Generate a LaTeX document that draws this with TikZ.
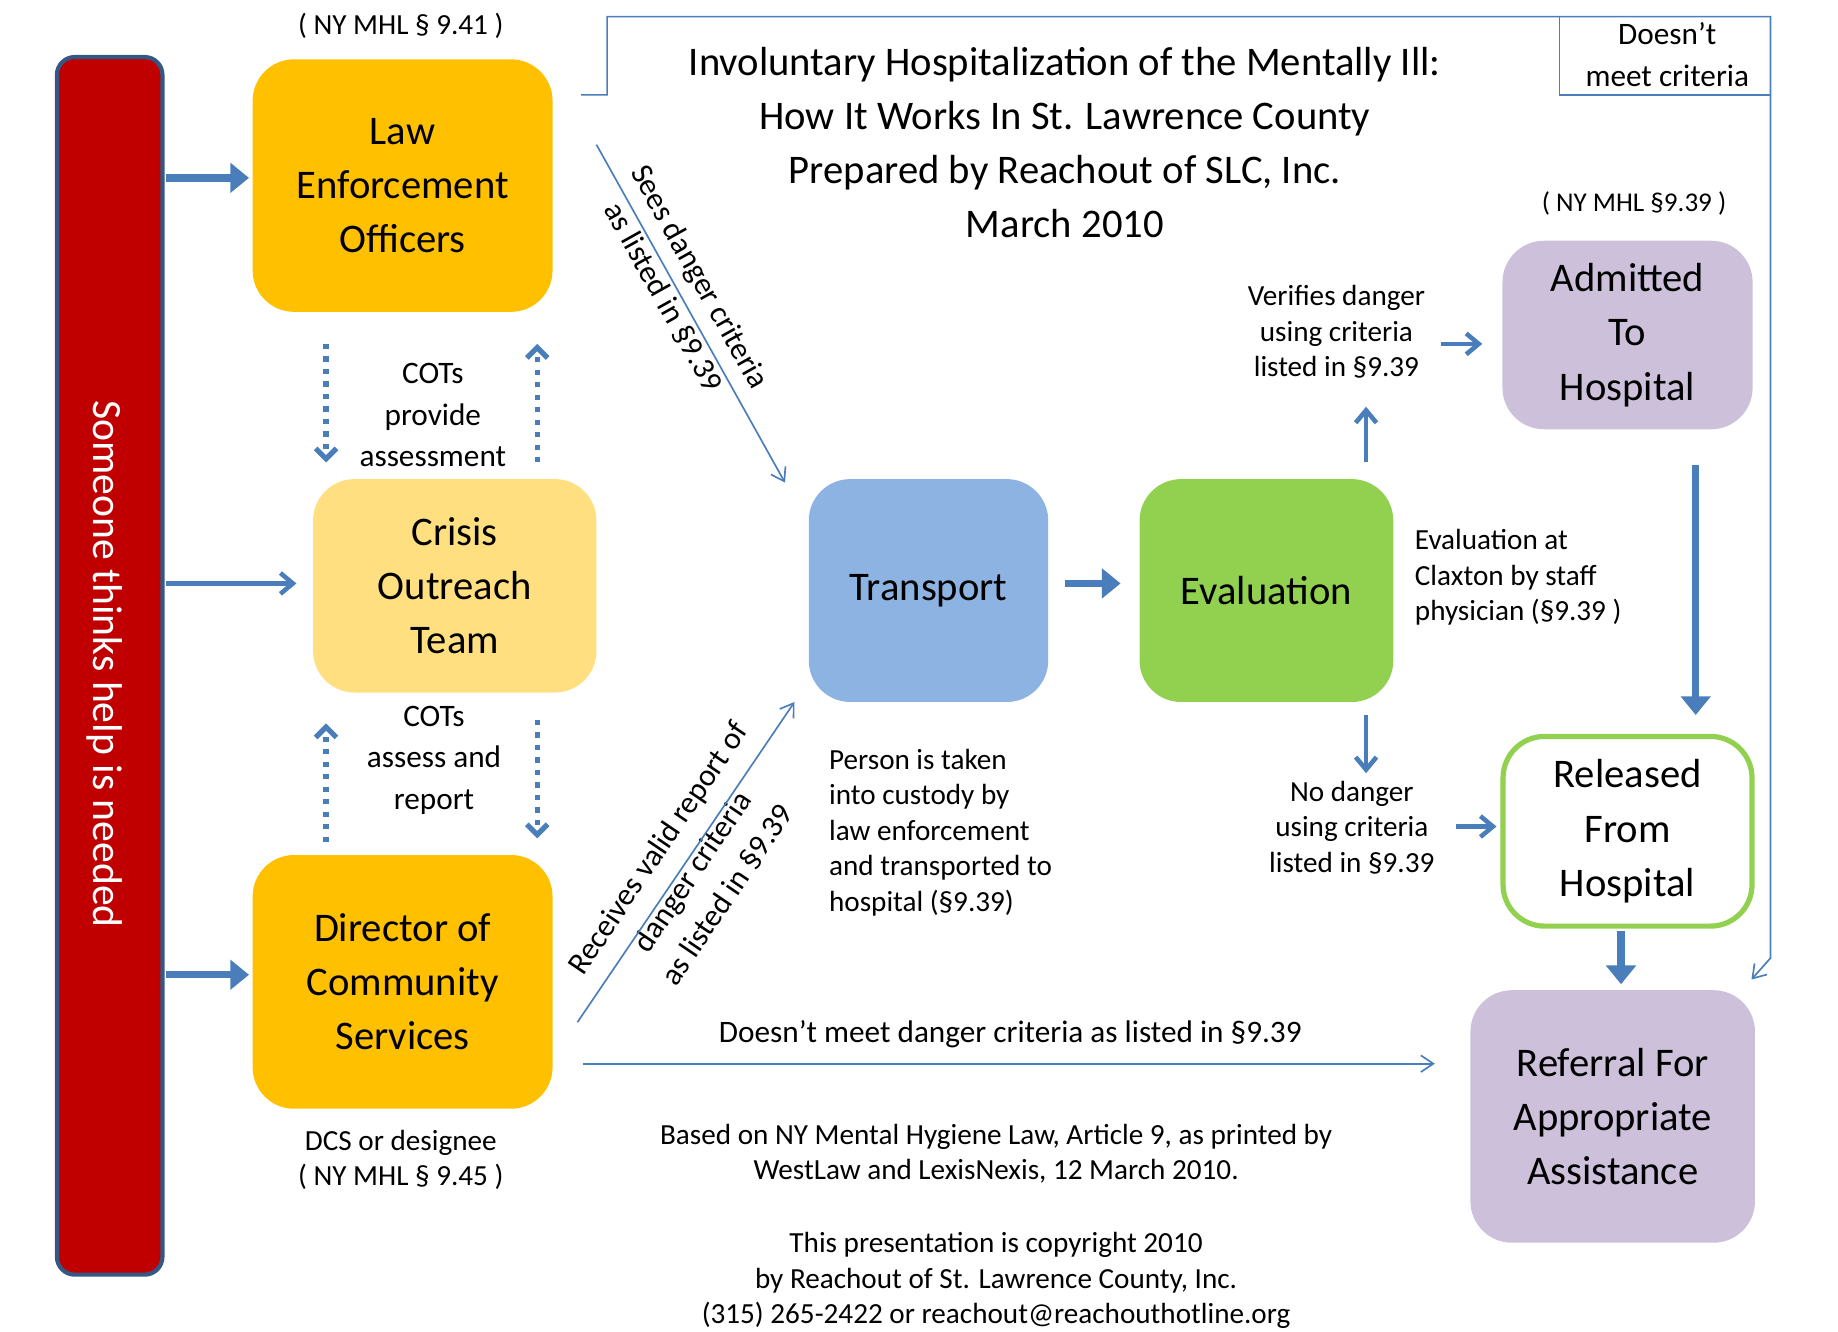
\documentclass[tikz,border=0pt]{standalone}
\usepackage{fontspec}
\setmainfont{Carlito}
\usetikzlibrary{arrows.meta}
\definecolor{ora}{HTML}{FFC000}
\definecolor{lyel}{HTML}{FFDF7F}
\definecolor{tblue}{HTML}{8DB3E2}
\definecolor{tgreen}{HTML}{92D050}
\definecolor{lav}{HTML}{CCC0DA}
\definecolor{arr}{HTML}{4A7EBB}
\definecolor{redb}{HTML}{C00000}
\begin{document}
\begin{tikzpicture}[x=0.02cm,y=-0.02cm,
 box/.style={rounded corners=0.7cm,align=center,font=\fontsize{19.5}{26}\selectfont,inner sep=0},
 sm/.style={align=center,font=\fontsize{14}{17}\selectfont},
 thick arr/.style={draw=arr,line width=3.5pt,-{Triangle[length=9pt,width=14pt]}},
 mid arr/.style={draw=arr,line width=2.2pt,-{Straight Barb[length=6pt,width=10pt]}},
 thin arr/.style={draw=arr,line width=0.8pt,-{Straight Barb[length=6pt,width=8pt]}},
 dot arr/.style={draw=arr,line width=2.5pt,dash pattern=on 2.5pt off 3.5pt,-{Straight Barb[length=5pt,width=10pt]}}]
\useasboundingbox (0,0) rectangle (1550,1123);
% red bar
\node[draw=arr!70!black,line width=2pt,fill=redb,rounded corners=0.3cm,minimum width=1.78cm,minimum height=20.54cm,inner sep=0] (bar) at (92.5,561.5) {};
\node[rotate=-90,white,font=\fontsize{20}{24}\selectfont] (bart) at (88,560) {Someone thinks help is needed};
% boxes
\node[box,fill=ora,minimum width=5.06cm,minimum height=4.26cm] (leo) at (339.5,156.5) {Law\\Enforcement\\Officers};
\node[box,fill=lyel,minimum width=4.78cm,minimum height=3.6cm] (cot) at (383.5,494) {Crisis\\Outreach\\Team};
\node[box,fill=ora,minimum width=5.06cm,minimum height=4.28cm] (dcs) at (339.5,828) {Director of\\Community\\Services};
\node[box,fill=tblue,minimum width=4.04cm,minimum height=3.76cm] (tr) at (783,498) {Transport};
\node[box,fill=tgreen,minimum width=4.28cm,minimum height=3.76cm] (ev) at (1068,498) {Evaluation};
\node[box,fill=lav,minimum width=4.22cm,minimum height=3.18cm] (adm) at (1372.5,282.5) {Admitted\\To\\Hospital};
\node[box,fill=white,draw=tgreen,line width=2.5pt,minimum width=4.2cm,minimum height=3.2cm] (rel) at (1372.5,701) {Released\\From\\Hospital};
\node[box,fill=lav,minimum width=4.8cm,minimum height=4.26cm] (ref) at (1360,941.5) {Referral For\\Appropriate\\Assistance};
% labels
\node[sm] (l941) at (338,22) {( NY MHL § 9.41 )};
\node[sm] (l945) at (338,978) {DCS or designee\\( NY MHL § 9.45 )};
\node[sm,font=\fontsize{13}{17}\selectfont] (l939) at (1378,172) {( NY MHL §9.39 )};
\node[align=center,font=\fontsize{19.5}{26}\selectfont] (title) at (898,120) {Involuntary Hospitalization of the Mentally Ill:\\How It Works In St. Lawrence County\\Prepared by Reachout of SLC, Inc.\\March 2010};
\node[sm,font=\fontsize{15}{20}\selectfont] (c1) at (365,350) {COTs\\provide\\assessment};
\node[sm,font=\fontsize{15}{20}\selectfont] (c2) at (366,641) {COTs\\assess and\\report};
\node[sm] (ver) at (1127,280) {Verifies danger\\using criteria\\listed in §9.39};
\node[sm,align=left,anchor=west] (evl) at (1187,487) {Evaluation at\\Claxton by staff\\physician (§9.39 )};
\node[sm] (nod) at (1140,698) {No danger\\using criteria\\listed in §9.39};
\node[sm,align=left,anchor=west] (per) at (693,702) {Person is taken\\into custody by\\law enforcement\\and transported to\\hospital (§9.39)};
\node[sm] (f1) at (840,973) {Based on NY Mental Hygiene Law, Article 9, as printed by\\WestLaw and LexisNexis, 12 March 2010.};
\node[sm] (f2) at (840,1080) {This presentation is copyright 2010\\by Reachout of St. Lawrence County, Inc.\\(315) 265-2422 or reachout@reachouthotline.org};
\node[sm,font=\fontsize{15}{17}\selectfont] (dmc) at (852,872) {Doesn’t meet danger criteria as listed in §9.39};
\node[sm,font=\fontsize{15}{20}\selectfont] (dm2) at (1406,46) {Doesn’t\\meet criteria};
\node[sm,rotate=-60.8,font=\fontsize{15}{20}\selectfont] (sees) at (575,242) {Sees danger criteria\\as listed in §9.39};
\node[sm,rotate=55.9,font=\fontsize{15}{20}\selectfont] (rec) at (584,735) {Receives valid report of\\danger criteria\\as listed in §9.39};
% coordinates
\coordinate (a1) at (140,150); \coordinate (a2) at (210,150);
\coordinate (b1) at (140,822); \coordinate (b2) at (210,822);
\coordinate (m1) at (140,492); \coordinate (m2) at (250,492);
\coordinate (t1) at (898,492); \coordinate (t2) at (945,492);
\coordinate (h1) at (1430,392); \coordinate (h2) at (1430,603);
\coordinate (r1) at (1367,785); \coordinate (r2) at (1367,830);
\coordinate (u1) at (1152,390); \coordinate (u2) at (1152,343);
\coordinate (d1) at (1152,603); \coordinate (d2) at (1152,652);
\coordinate (v1) at (1215,290); \coordinate (v2) at (1250,290);
\coordinate (n1) at (1228,697); \coordinate (n2) at (1262,697);
\coordinate (p1) at (275,290); \coordinate (p2) at (275,390);
\coordinate (q1) at (453,390); \coordinate (q2) at (453,290);
\coordinate (s1) at (275,710); \coordinate (s2) at (275,610);
\coordinate (w1) at (453,607); \coordinate (w2) at (453,707);
\coordinate (g1) at (503,122); \coordinate (g2) at (662,407);
\coordinate (k1) at (487,862); \coordinate (k2) at (670,592);
\coordinate (z1) at (492,897); \coordinate (z2) at (1210,897);
\coordinate (o1) at (490,80); \coordinate (o2) at (512,80); \coordinate (o3) at (512,14);
\coordinate (o4) at (1493,14); \coordinate (o5) at (1493,808); \coordinate (o6) at (1477,826);
\coordinate (e1) at (1315,14); \coordinate (e2) at (1315,80); \coordinate (e3) at (1493,80);
% arrows
\draw[thick arr] (a1)--(a2);
\draw[thick arr] (b1)--(b2);
\draw[mid arr] (m1)--(m2);
\draw[thick arr] (t1)--(t2);
\draw[thick arr] (h1)--(h2);
\draw[thick arr] (r1)--(r2);
\draw[mid arr] (u1)--(u2);
\draw[mid arr] (d1)--(d2);
\draw[mid arr] (v1)--(v2);
\draw[mid arr] (n1)--(n2);
\draw[dot arr] (p1)--(p2);
\draw[dot arr] (q1)--(q2);
\draw[dot arr] (s1)--(s2);
\draw[dot arr] (w1)--(w2);
\draw[thin arr] (g1)--(g2);
\draw[thin arr] (k1)--(k2);
\draw[thin arr] (z1)--(z2);
\draw[thin arr] (o1)--(o2)--(o3)--(o4)--(o5)--(o6);
\draw[draw=arr,line width=0.8pt] (e1)--(e2)--(e3);
\end{tikzpicture}
\end{document}
